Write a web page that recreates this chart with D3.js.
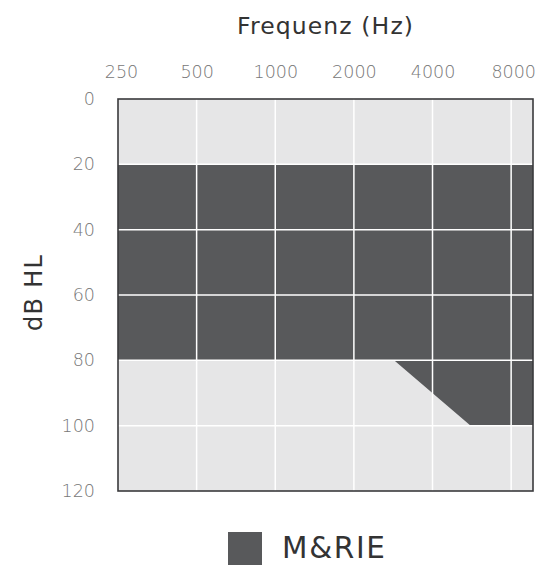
<!DOCTYPE html>
<html>
<head>
<meta charset="utf-8">
<script src="https://cdn.jsdelivr.net/npm/d3@7"></script>
<style>
  body { margin: 0; background: #fff; }
  text { font-family: "DejaVu Sans", "Open Sans", sans-serif; }
  .tick text { font-family: "DejaVu Sans Light", "DejaVu Sans ExtraLight", "DejaVu Sans", sans-serif; font-weight: 200; }
</style>
</head>
<body>
<div id="chart"></div>
<script>
// tick values
var freqTicks = [250, 500, 1000, 2000, 4000, 8000];
var dbTicks = [0, 20, 40, 60, 80, 100, 120];

// hearing range polygon (freq, dB HL)
var rangeFreq = [250, 9700, 9700, 5600, 2850, 250];
var rangeDb = [20, 20, 100, 100, 80, 80];

var seriesName = "M&RIE";

var svgWidth = 540;
var svgHeight = 569;

var svg = d3.select("#chart")
  .append("svg")
  .attr("width", svgWidth)
  .attr("height", svgHeight);

// scales
var xScale = d3.scaleLog().domain([250, 9700]).range([118, 533]);
var yScale = d3.scaleLinear().domain([0, 120]).range([99, 491]);

// background
svg.append("rect")
  .attr("x", xScale.range()[0])
  .attr("y", yScale.range()[0])
  .attr("width", xScale.range()[1] - xScale.range()[0])
  .attr("height", yScale.range()[1] - yScale.range()[0])
  .attr("fill", "#e6e6e7");

// polygon
var pts = rangeFreq.map(function(f, i) { return [xScale(f), yScale(rangeDb[i])]; });
svg.append("polygon")
  .attr("points", pts.map(function(p) { return p.join(","); }).join(" "))
  .attr("fill", "#58595b");

// gridlines
svg.append("g").selectAll("line")
  .data(freqTicks.slice(1))
  .enter().append("line")
  .attr("x1", d => xScale(d)).attr("x2", d => xScale(d))
  .attr("y1", yScale(0)).attr("y2", yScale(120))
  .attr("stroke", "#fff").attr("stroke-width", 1.5);

svg.append("g").selectAll("line")
  .data(dbTicks.slice(1, -1))
  .enter().append("line")
  .attr("x1", xScale.range()[0]).attr("x2", xScale.range()[1])
  .attr("y1", d => yScale(d)).attr("y2", d => yScale(d))
  .attr("stroke", "#fff").attr("stroke-width", 1.5);

// frame
svg.append("rect")
  .attr("x", xScale.range()[0])
  .attr("y", yScale.range()[0])
  .attr("width", xScale.range()[1] - xScale.range()[0])
  .attr("height", yScale.range()[1] - yScale.range()[0])
  .attr("fill", "none")
  .attr("stroke", "#3a3a3c")
  .attr("stroke-width", 1.6);

// top axis
var topAxis = d3.axisTop(xScale).tickValues(freqTicks).tickSize(0).tickPadding(0)
  .tickFormat(d3.format("d"));
var gx = svg.append("g").attr("transform", "translate(0,78)").call(topAxis);
gx.select(".domain").remove();
gx.selectAll("text")
  .attr("y", 0).attr("dy", 0)
  .attr("font-size", 17.5)
  .attr("fill", "#777")
  .attr("x", d => d === 250 ? 3 : (d === 8000 ? 2 : 0));

// left axis
var leftAxis = d3.axisLeft(yScale).tickValues(dbTicks).tickSize(0).tickPadding(0);
var gy = svg.append("g").attr("transform", "translate(95,0)").call(leftAxis);
gy.select(".domain").remove();
gy.selectAll("text")
  .attr("font-size", 17.5)
  .attr("fill", "#777");

// axis titles
svg.append("text")
  .attr("x", 325).attr("y", 34)
  .attr("text-anchor", "middle")
  .attr("font-size", 23.5)
  .attr("fill", "#333")
  .attr("textLength", 176)
  .text("Frequenz (Hz)");

svg.append("text")
  .attr("transform", "translate(42,293) rotate(-90)")
  .attr("text-anchor", "middle")
  .attr("font-size", 24)
  .attr("fill", "#333")
  .attr("textLength", 76)
  .text("dB HL");

// legend
svg.append("rect")
  .attr("x", 228).attr("y", 532)
  .attr("width", 34).attr("height", 33)
  .attr("fill", "#58595b");

svg.append("text")
  .attr("x", 282).attr("y", 558)
  .attr("font-size", 29.5)
  .attr("fill", "#333")
  .attr("textLength", 103)
  .text(seriesName);
</script>
</body>
</html>
